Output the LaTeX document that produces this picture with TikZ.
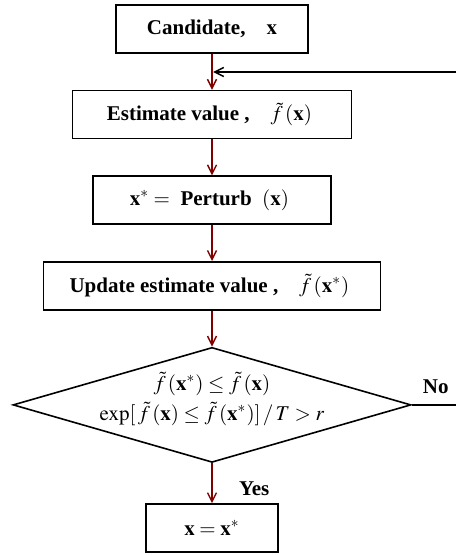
\documentclass[tikz,border=0pt]{standalone}
\usepackage{mathptmx}
\usepackage{fontspec}
\setmainfont{Liberation Serif}
\usepackage{tikz}
\usetikzlibrary{arrows.meta,positioning,shapes.geometric}
\definecolor{flowred}{RGB}{128,0,0}

\begin{document}
\begin{tikzpicture}[
    x=0.5pt, y=0.5pt,
    node distance=18pt,
    >={Straight Barb[length=4.5pt,width=4.5pt]},
    flowline/.style={->, line width=0.7pt, draw=flowred},
    backline/.style={->, line width=0.7pt, draw=black},
    exitline/.style={line width=0.7pt, draw=black},
    block/.style={
      draw=black,
      line width=0.8pt,
      align=center,
      minimum height=24pt,
      inner sep=3pt,
      font=\fontsize{10.5}{13}\selectfont\bfseries
    },
    decision/.style={
      draw=black,
      line width=0.8pt,
      diamond,
      minimum width=199pt,
      minimum height=57.5pt,
      inner sep=0pt
    },
    answer/.style={font=\fontsize{10.5}{13}\selectfont\bfseries}
  ]
    \useasboundingbox (0,0) rectangle (456,555);

    \node[block, minimum width=96pt] (candidate) at (212,526) {Candidate,\quad $\mathbf{x}$};
    \node[block, minimum width=139.5pt, below=of candidate] (estimate) {
      Estimate value ,\quad $\tilde{f}\,(\mathbf{x})$
    };
    \node[block, minimum width=119pt, below=of estimate] (perturb) {
      $\mathbf{x}^{*}=$\enspace Perturb\enspace$(\mathbf{x})$
    };
    \node[block, minimum width=168.5pt, below=of perturb] (update) {
      Update estimate value ,\quad $\tilde{f}\,(\mathbf{x}^{*})$
    };
    \node[decision, below=of update] (accept) {};
    \node[align=center, font=\fontsize{10.5}{15}\selectfont] (condition)
      at ([yshift=3pt]accept.center) {
      $\tilde{f}\,(\mathbf{x}^{*})\leq\tilde{f}\,(\mathbf{x})$\\
      $\exp[\,\tilde{f}\,(\mathbf{x})\leq\tilde{f}\,(\mathbf{x}^{*})]\,/\,T>r$
    };
    \node[block, minimum width=66pt, below=20pt of accept] (result) {$\mathbf{x}=\mathbf{x}^{*}$};

    \node[answer, above right=2pt and 2pt of accept.east] (no) {No};
    \node[answer, below right=5.5pt and 10pt of accept.south] (yes) {Yes};

    \coordinate (loopin) at (456,483);

    \draw[flowline] (candidate) -- (estimate);
    \draw[flowline] (estimate) -- (perturb);
    \draw[flowline] (perturb) -- (update);
    \draw[flowline] (update) -- (accept);
    \draw[flowline] (accept) -- (result);
    \draw[backline, shorten >=0.6pt] (loopin) -- (loopin -| candidate.south);
    \draw[exitline] (accept.east) -- (accept.east -| loopin);
  \end{tikzpicture}
\end{document}
